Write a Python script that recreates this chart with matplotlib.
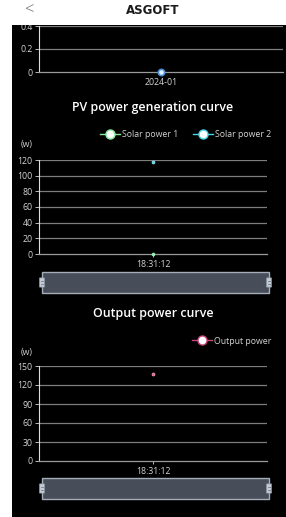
import matplotlib
matplotlib.use("Agg")
import matplotlib.pyplot as plt
from matplotlib.patches import Rectangle, FancyBboxPatch
from matplotlib.lines import Line2D

plt.rcParams['font.family'] = ['Open Sans', 'DejaVu Sans']

# --- data ---
month_labels = ["2024-01"]
month_values = [0]
month_ticks = [0, 0.2, 0.4]

time_labels = ["18:31:12"]
solar1_values = [0]
solar2_values = [117]
pv_ticks = [0, 20, 40, 60, 80, 100, 120]

output_values = [137]
out_ticks = [0, 30, 60, 90, 120, 150]

W, H = 286, 517
fig = plt.figure(figsize=(W / 100, H / 100), dpi=100, facecolor="black")


def rect(x0, y0, x1, y1):
    # pixel box (top-left origin) -> figure fraction
    return [x0 / W, 1 - y1 / H, (x1 - x0) / W, (y1 - y0) / H]


GRID = "#7d7d7d"
TXT = "#d4d4d4"
TS = 6.3


def make_axes(box, ticks, tick_fmt, xlabels):
    ax = fig.add_axes(rect(*box))
    ax.set_facecolor("none")
    ax.set_xlim(-0.5, 0.5)
    ax.set_ylim(ticks[0], ticks[-1])
    ax.set_yticks(ticks)
    ax.set_yticklabels([tick_fmt(t) for t in ticks])
    ax.set_xticks(range(len(xlabels)))
    ax.set_xticklabels(xlabels)
    for t in ticks[1:]:
        ax.axhline(t, color=GRID, lw=0.9, zorder=1)
    for s in ["top", "right"]:
        ax.spines[s].set_visible(False)
    ax.spines["left"].set_color("#dddddd")
    ax.spines["left"].set_linewidth(0.8)
    ax.spines["bottom"].set_color("#9a9a9a")
    ax.spines["bottom"].set_linewidth(0.9)
    ax.tick_params(axis="y", colors=TXT, labelsize=TS, length=3, width=0.6, pad=1.5)
    ax.tick_params(axis="x", colors=TXT, labelsize=TS, length=2.5, width=0.6, pad=1.5)
    return ax


def slider(box):
    sx = fig.add_axes(rect(*box))
    sx.set_axis_off()
    sx.set_xlim(0, 1)
    sx.set_ylim(0, 1)
    sx.add_patch(Rectangle((0, 0), 1, 1, facecolor="#474e59", edgecolor="#a4adb8",
                           lw=1.0, clip_on=False))
    for hx in (0, 1):
        sx.add_patch(FancyBboxPatch((hx - 0.011, 0.28), 0.022, 0.44,
                                    boxstyle="round,pad=0,rounding_size=0.005",
                                    facecolor="#c3ccd6", edgecolor="#8c96a2",
                                    lw=0.5, clip_on=False, zorder=3))
        for yy in (0.43, 0.57):
            sx.plot([hx - 0.006, hx + 0.006], [yy, yy], color="#5c6672", lw=0.5,
                    clip_on=False, zorder=4)


# --- background pieces ---
fig.add_artist(Rectangle((0, 0), 12 / W, 1, transform=fig.transFigure,
                         facecolor="white", edgecolor="none", zorder=10))
fig.add_artist(Rectangle((0, 1 - 25 / H), 1, 25 / H, transform=fig.transFigure,
                         facecolor="white", edgecolor="none", zorder=10))
fig.text(29 / W, 1 - 10 / H, "<", color="#666666", fontsize=12, ha="center",
         va="center", zorder=11, fontweight="light")
fig.text(153 / W, 1 - 10 / H, "ASGOFT", color="#1a1a1a", fontsize=8.5,
         fontweight="heavy", family="DejaVu Sans", ha="center", va="center", zorder=11)

# --- chart 1 (cut off at top) ---
ax1 = make_axes((39, 26, 283, 72), month_ticks, lambda t: "0" if t == 0 else f"{t:.1f}",
                month_labels)
ax1.plot(range(len(month_values)), month_values, "o", ms=4.5, mfc="#dfefff",
         mec="#4a8fd8", mew=1.2, zorder=5, clip_on=False)

# --- chart 2 ---
fig.text(153 / W, 1 - 108 / H, "PV power generation curve", color="white",
         fontsize=8.9, fontweight="semibold", ha="center", va="center")
ax2 = make_axes((39, 160, 267, 254), pv_ticks, lambda t: str(t), time_labels)
ax2.plot(range(len(solar1_values)), solar1_values, "o", ms=2.2, color="#7df0a8",
         mec="#b8ffd0", mew=0.4, zorder=5, clip_on=False)
ax2.plot(range(len(solar2_values)), solar2_values, "o", ms=2.2, color="#3fd9f0",
         mec="#b0f4ff", mew=0.4, zorder=5)
fig.text(21 / W, 1 - 144 / H, "(w)", color=TXT, fontsize=TS, ha="left", va="center")
h1 = Line2D([], [], color="#86e89a", lw=1, marker="o", ms=6.5, mfc="white",
            mec="#86e89a", mew=1)
h2 = Line2D([], [], color="#45d3e6", lw=1, marker="o", ms=6.5, mfc="white",
            mec="#45d3e6", mew=1)
fig.legend([h1, h2], ["Solar power 1", "Solar power 2"], loc="center right",
           bbox_to_anchor=(276 / W, 1 - 135 / H), ncol=2, frameon=False,
           labelcolor=TXT, fontsize=TS, handlelength=2.3, handletextpad=0.3,
           columnspacing=1.6, borderpad=0)
slider((42, 272, 269, 293))

# --- chart 3 ---
fig.text(153 / W, 1 - 314 / H, "Output power curve", color="white",
         fontsize=8.9, fontweight="semibold", ha="center", va="center")
ax3 = make_axes((39, 366, 267, 461), out_ticks, lambda t: str(t), time_labels)
ax3.plot(range(len(output_values)), output_values, "o", ms=2.2, color="#f0508a",
         mec="#ffc0d8", mew=0.4, zorder=5)
fig.text(21 / W, 1 - 352 / H, "(w)", color=TXT, fontsize=TS, ha="left", va="center")
h3 = Line2D([], [], color="#c8457a", lw=1, marker="o", ms=6.5, mfc="white",
            mec="#c8457a", mew=1)
fig.legend([h3], ["Output power"], loc="center right",
           bbox_to_anchor=(276 / W, 1 - 341 / H), frameon=False,
           labelcolor=TXT, fontsize=TS, handlelength=2.3, handletextpad=0.3,
           borderpad=0)
slider((42, 478, 269, 499))

fig.savefig("out.png", dpi=100, facecolor="black")
